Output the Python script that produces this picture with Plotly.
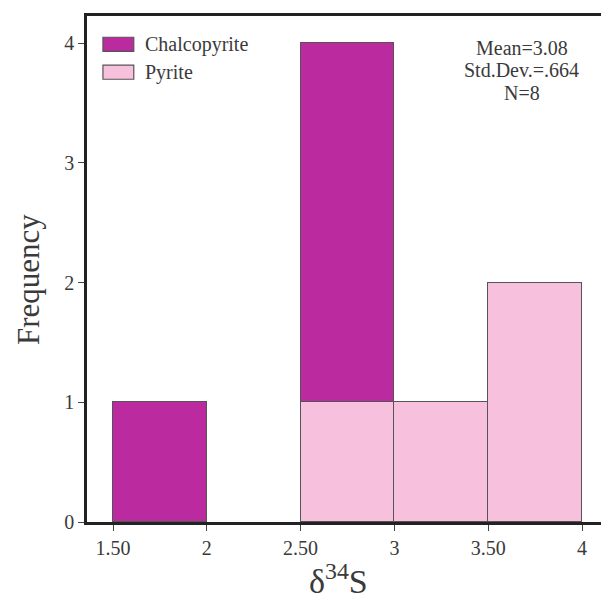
import plotly.graph_objects as go

# Histogram bins of delta-34S (per mil), width 0.5
bin_centers = [1.75, 2.25, 2.75, 3.25, 3.75]
bin_width = 0.5

# Counts per bin for each mineral (None = empty bin)
pyrite_counts = [None, None, 1, 1, 2]
chalcopyrite_counts = [1, None, 3, None, None]

series_names = ["Chalcopyrite", "Pyrite"]
series_colors = ["#bb2a9f", "#f7c1de"]

x_tick_vals = [1.5, 2.0, 2.5, 3.0, 3.5, 4.0]
x_tick_text = ["1.50", "2", "2.50", "3", "3.50", "4"]
y_tick_vals = [0, 1, 2, 3, 4]

stats_lines = ["Mean=3.08", "Std.Dev.=.664", "N=8"]

FONT = "Liberation Serif"
TEXT = "#3a3a3a"
EDGE = "#555555"

fig = go.Figure()
fig.add_trace(go.Bar(
    x=bin_centers, y=pyrite_counts, width=bin_width, name=series_names[1],
    marker=dict(color=series_colors[1], line=dict(color=EDGE, width=1.2)),
    showlegend=False,
))
fig.add_trace(go.Bar(
    x=bin_centers, y=chalcopyrite_counts, width=bin_width, name=series_names[0],
    marker=dict(color=series_colors[0], line=dict(color=EDGE, width=1.2)),
    showlegend=False,
))

# Legend: swatches and labels in paper coordinates
shapes = []
annotations = []
legend_y = [0.944, 0.889]
for name, color, ly in zip(series_names, series_colors, legend_y):
    shapes.append(dict(type="rect", xref="paper", yref="paper",
                       x0=0.031, x1=0.091, y0=ly - 0.014, y1=ly + 0.014,
                       fillcolor=color, line=dict(color=EDGE, width=1.2)))
    annotations.append(dict(text=name, xref="paper", yref="paper",
                            x=0.108, y=ly, xanchor="left", yanchor="middle",
                            showarrow=False, font=dict(family=FONT, size=20, color=TEXT)))

# Summary statistics block
for i, line in enumerate(stats_lines):
    annotations.append(dict(text=line, xref="paper", yref="paper",
                            x=0.846, y=0.937 - i * 0.0445, xanchor="center", yanchor="middle",
                            showarrow=False, font=dict(family=FONT, size=20, color=TEXT)))

# Axis titles
annotations.append(dict(text="Frequency", xref="paper", yref="paper",
                        x=-0.115, y=0.48, xanchor="center", yanchor="middle", textangle=-90,
                        showarrow=False, font=dict(family=FONT, size=31, color=TEXT)))
annotations.append(dict(text="δ<sup>34</sup>S", xref="paper", yref="paper",
                        x=0.49, y=-0.113, xanchor="center", yanchor="middle",
                        showarrow=False, font=dict(family=FONT, size=34, color=TEXT)))

fig.update_layout(
    width=601, height=611,
    margin=dict(l=87, r=0, t=16, b=89),
    paper_bgcolor="white", plot_bgcolor="white",
    barmode="stack", bargap=0,
    showlegend=False,
    shapes=shapes, annotations=annotations,
    font=dict(family=FONT, color=TEXT),
)
fig.update_xaxes(
    range=[1.3614, 4.101], tickvals=x_tick_vals, ticktext=x_tick_text,
    showgrid=False, zeroline=False,
    showline=True, linecolor="#222", linewidth=2.5, mirror=True,
    ticks="outside", ticklen=6, tickcolor="#444", tickwidth=1,
    tickfont=dict(family=FONT, size=20, color=TEXT),
)
fig.update_yaxes(
    range=[0, 4.2255], tickvals=y_tick_vals,
    showgrid=False, zeroline=False,
    showline=True, linecolor="#222", linewidth=2.5,
    ticks="outside", ticklen=6, tickcolor="#444", tickwidth=1,
    tickfont=dict(family=FONT, size=20, color=TEXT),
)

fig.write_html("out.html")
